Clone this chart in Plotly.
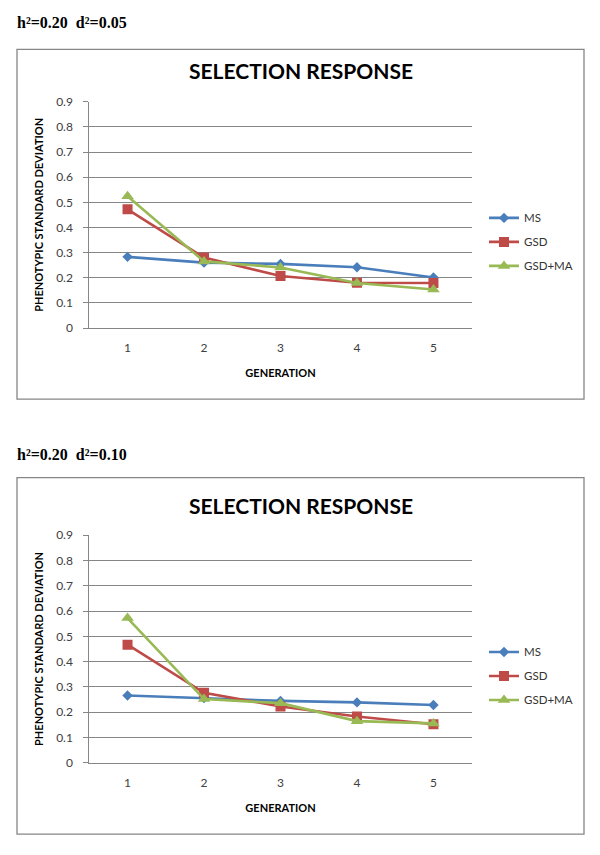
import plotly.graph_objects as go

# ---------------- data ----------------
generations = [1, 2, 3, 4, 5]
gen_labels = ["1", "2", "3", "4", "5"]
y_ticks = [0, 0.1, 0.2, 0.3, 0.4, 0.5, 0.6, 0.7, 0.8, 0.9]
y_tick_labels = ["0", "0.1", "0.2", "0.3", "0.4", "0.5", "0.6", "0.7", "0.8", "0.9"]

series_names = ["MS", "GSD", "GSD+MA"]

# panel 1: h2=0.20, d2=0.05
p1_ms = [0.283, 0.260, 0.255, 0.242, 0.201]
p1_gsd = [0.472, 0.280, 0.207, 0.180, 0.179]
p1_gsdma = [0.524, 0.265, 0.241, 0.179, 0.153]

# panel 2: h2=0.20, d2=0.10
p2_ms = [0.266, 0.256, 0.245, 0.239, 0.229]
p2_gsd = [0.467, 0.277, 0.223, 0.183, 0.153]
p2_gsdma = [0.572, 0.252, 0.236, 0.165, 0.156]

panel_labels = ["h\u00b2=0.20  d\u00b2=0.05", "h\u00b2=0.20  d\u00b2=0.10"]
chart_title = "SELECTION RESPONSE"
x_title = "GENERATION"
y_title = "PHENOTYPIC STANDARD DEVIATION"

# ---------------- styling ----------------
PAGE_W, PAGE_H = 600, 855
OFF = 8                      # default body margin of the html page (each side)
W, H = PAGE_W - 2 * OFF, PAGE_H - 2 * OFF
colors = ["#4A7EBB", "#BE4B48", "#98B954"]
symbols = ["diamond", "square", "triangle-up"]
msizes = [8, 10, 11]
GRID = "#868686"
FONT = "Lato"


def px(x):
    return (x - OFF) / W


def py(y):
    return 1 - (y - OFF) / H


fig = go.Figure()

panels = [
    dict(vals=[p1_ms, p1_gsd, p1_gsdma], xa="x", ya="y", legend="legend",
         ytop=95.3, ybot=325.7, box=(42, 398), label_y=15, title_y=63,
         leg_y=238.0),
    dict(vals=[p2_ms, p2_gsd, p2_gsdma], xa="x2", ya="y2", legend="legend2",
         ytop=536.5, ybot=768.5, box=(478, 841), label_y=454, title_y=506.7,
         leg_y=680.0),
]

x_left, x_right = 89.3, 471.7

shapes = []
annotations = []
for i, p in enumerate(panels):
    for j, name in enumerate(series_names):
        fig.add_trace(go.Scatter(
            x=generations, y=p["vals"][j], name=name, mode="lines+markers",
            line=dict(color=colors[j], width=2.6),
            marker=dict(symbol=symbols[j], size=msizes[j], color=colors[j]),
            xaxis=p["xa"], yaxis=p["ya"], legend=p["legend"],
            legendgroup=f"{p['legend']}_{name}",
        ))
    # outer chart box
    shapes.append(dict(type="rect", xref="paper", yref="paper",
                       x0=px(17), x1=px(584), y0=py(p["box"][1]), y1=py(p["box"][0]),
                       line=dict(color=GRID, width=1.3), fillcolor="rgba(0,0,0,0)",
                       layer="below"))
    # panel label above box
    annotations.append(dict(text=panel_labels[i], xref="paper", yref="paper",
                            x=px(15), y=py(p["label_y"]), xanchor="left", yanchor="middle",
                            showarrow=False,
                            font=dict(family="Liberation Serif", size=16, color="#000",
                                      weight="bold")))
    # chart title
    annotations.append(dict(text=chart_title, xref="paper", yref="paper",
                            x=px(300.5), y=py(p["title_y"]), xanchor="center", yanchor="middle",
                            showarrow=False,
                            font=dict(family=FONT, size=21, color="#000", weight="bold")))

xaxis_common = dict(range=[0.5, 5.5], tickvals=generations, ticktext=gen_labels,
                    showgrid=False, zeroline=False, showline=True, linecolor=GRID,
                    linewidth=1, ticks="", ticklabelstandoff=9,
                    tickfont=dict(family=FONT, size=12, color="#404040"),
                    title=dict(text=x_title, standoff=14,
                               font=dict(family=FONT, size=11, color="#000", weight="bold")),
                    domain=[px(x_left), px(x_right)], fixedrange=True)
yaxis_common = dict(range=[0, 0.9], tickvals=y_ticks, ticktext=y_tick_labels,
                    showgrid=True, gridcolor=GRID, gridwidth=1, zeroline=False,
                    showline=True, linecolor=GRID, linewidth=1,
                    ticks="outside", ticklen=5, tickcolor=GRID,
                    ticklabelstandoff=8,
                    tickfont=dict(family=FONT, size=12, color="#404040"),
                    title=dict(text=y_title, standoff=10,
                               font=dict(family=FONT, size=11, color="#000", weight="bold")),
                    fixedrange=True)

legend_common = dict(font=dict(family=FONT, size=11.5, color="#333"),
                     bgcolor="rgba(0,0,0,0)", borderwidth=0, tracegroupgap=5,
                     itemwidth=30, xanchor="left", yanchor="middle",
                     x=px(484))

fig.update_layout(
    width=W, height=H, margin=dict(l=0, r=0, t=0, b=0),
    paper_bgcolor="white", plot_bgcolor="white",
    showlegend=True,
    xaxis=dict(**xaxis_common, anchor="y"),
    yaxis=dict(**yaxis_common, anchor="x",
               domain=[py(panels[0]["ybot"]), py(panels[0]["ytop"])]),
    xaxis2=dict(**xaxis_common, anchor="y2"),
    yaxis2=dict(**yaxis_common, anchor="x2",
                domain=[py(panels[1]["ybot"]), py(panels[1]["ytop"])]),
    legend=dict(**legend_common, y=py(panels[0]["leg_y"])),
    legend2=dict(**legend_common, y=py(panels[1]["leg_y"])),
    shapes=shapes,
    annotations=annotations,
)

fig.write_html("out.html")
